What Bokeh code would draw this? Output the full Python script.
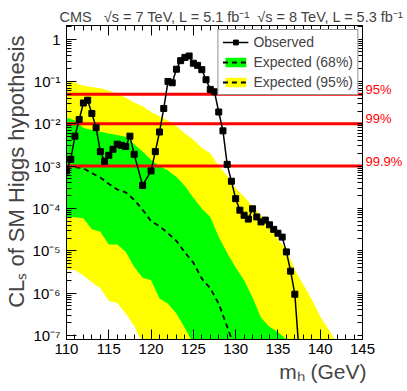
from bokeh.plotting import figure
from bokeh.models import (Span, Legend, LegendItem, LinearAxis, LogAxis, Title,
                          FixedTicker, SingleIntervalTicker, CustomJSTickFormatter)
from bokeh.embed import file_html
from bokeh.resources import INLINE

# ---------------- data ----------------
mass_grid = [110, 111, 112, 113, 114, 115, 116, 117, 118, 119, 120, 121, 122, 123,
             124, 125, 126, 127, 128, 129, 130, 131, 132, 133, 134, 135, 136, 137,
             138, 139, 140, 141, 142, 143, 144, 145]

yellow_hi = [1.0e-1, 9.3e-2, 7.9e-2, 7.4e-2, 6.9e-2, 6.0e-2, 5.1e-2, 4.1e-2, 3.2e-2,
             2.6e-2, 1.9e-2, 1.5e-2, 1.2e-2, 8.7e-3, 5.9e-3, 4.2e-3, 2.7e-3, 2.0e-3,
             1.0e-3, 5.8e-4, 3.0e-4, 1.9e-4, 1.1e-4, 6.9e-5, 4.7e-5, 1.8e-5, 1.1e-5,
             3.5e-6, 1.6e-6, 7.1e-7, 2.8e-7, 1.4e-7, 6.3e-8, 1e-9, 1e-9, 1e-9]
yellow_lo = [3.6e-6, 3.5e-6, 2.6e-6, 1.8e-6, 1.3e-6, 6.6e-7, 5.8e-7, 3.3e-7, 1.7e-7,
             6.3e-8, 1e-9, 1e-9, 1e-9, 1e-9, 1e-9, 1e-9, 1e-9, 1e-9, 1e-9, 1e-9, 1e-9,
             1e-9, 1e-9, 1e-9, 1e-9, 1e-9, 1e-9, 1e-9, 1e-9, 1e-9, 1e-9, 1e-9, 1e-9,
             1e-9, 1e-9, 1e-9]
green_hi = [1.4e-2, 1.2e-2, 7.9e-3, 7.1e-3, 6.5e-3, 5.9e-3, 5.4e-3, 4.9e-3, 3.3e-3,
            2.2e-3, 1.4e-3, 1.0e-3, 7.9e-4, 5.5e-4, 3.4e-4, 1.8e-4, 1.0e-4, 6.3e-5,
            2.1e-5, 8.9e-6, 4.0e-6, 2.0e-6, 7.9e-7, 2.6e-7, 1.6e-7, 1.2e-7, 7.9e-8,
            1e-9, 1e-9, 1e-9, 1e-9, 1e-9, 1e-9, 1e-9, 1e-9, 1e-9]
green_lo = [6.3e-5, 6.2e-5, 5.9e-5, 3.2e-5, 2.8e-5, 1.4e-5, 1.4e-5, 9.5e-6, 4.2e-6,
            2.3e-6, 2.0e-6, 7.4e-7, 5.6e-7, 3.3e-7, 1.5e-7, 6.3e-8, 1e-9, 1e-9, 1e-9,
            1e-9, 1e-9, 1e-9, 1e-9, 1e-9, 1e-9, 1e-9, 1e-9, 1e-9, 1e-9, 1e-9, 1e-9,
            1e-9, 1e-9, 1e-9, 1e-9, 1e-9]

exp_mass = [110, 111, 112, 113, 114, 115, 116, 117, 118, 119, 120, 121, 122, 123,
            124, 125, 126, 127, 128, 129, 130]
exp_cls = [1.0e-3, 9.5e-4, 8.9e-4, 6.8e-4, 5.4e-4, 3.8e-4, 2.8e-4, 2.4e-4, 1.6e-4,
           9.3e-5, 5.0e-5, 3.8e-5, 2.6e-5, 1.7e-5, 9.1e-6, 5.2e-6, 2.2e-6, 1.3e-6,
           5.6e-7, 1.6e-7, 4.5e-8]

obs_mass = [110, 110.5, 111, 111.5, 112, 112.5, 113, 113.5, 114, 114.5, 115, 115.5,
            116, 116.5, 117, 117.5, 118, 119, 120, 120.5, 121, 121.5, 122, 122.5,
            123, 123.5, 124, 124.5, 125, 125.5, 126, 126.5, 127, 127.5, 128, 128.5,
            129, 129.5, 130, 130.5, 131, 131.5, 132, 132.5, 133, 133.5, 134, 134.5,
            135, 135.5, 136, 136.5, 137, 137.5]
obs_cls = [7.7e-4, 1.45e-3, 5.1e-3, 1.26e-2, 3.1e-2, 3.6e-2, 1.75e-2, 8.1e-3, 2.2e-3,
           1.3e-3, 1.8e-3, 2.5e-3, 3.3e-3, 3.1e-3, 2.9e-3, 5.1e-3, 1.9e-3, 3.5e-4,
           7.7e-4, 2.2e-3, 6.4e-3, 2.3e-2, 0.10, 0.093, 0.195, 0.31, 0.37, 0.40, 0.27,
           0.24, 0.19, 0.11, 0.065, 0.057, 0.019, 6.8e-3, 1.1e-3, 4.4e-4, 1.7e-4, 9.1e-5,
           6.9e-5, 5.6e-5, 9.8e-5, 6.3e-5, 4.8e-5, 5.3e-5, 4.1e-5, 3.2e-5, 2.6e-5,
           2.1e-5, 9.4e-6, 3.3e-6, 9.4e-7, 4.0e-8]

cl_levels = [0.05, 0.01, 0.001]
cl_labels = ["95%", "99%", "99.9%"]

y_major = [1e-7, 1e-6, 1e-5, 1e-4, 1e-3, 1e-2, 1e-1, 1.0]
y_minor = [m * t for t in y_major for m in range(2, 10)]

TITLE_TEXT = ("CMS\u00a0\u00a0 \u221as = 7 TeV, L = 5.1 fb\u207b\u00b9\u00a0 "
              "\u221as = 8 TeV, L = 5.3 fb\u207b\u00b9")
YLABEL = "CL\u209b of SM Higgs hypothesis"
XLABEL = "m\u2095 (GeV)"

FONT = "Liberation Sans"
YELLOW = "#ffff00"
GREEN = "#00ff00"

X_MIN, X_MAX = 110, 145
Y_MIN, Y_MAX = 8e-8, 2.1
PX_PER_DECADE = 314 / 7.42          # frame height / decades shown
LABEL_RAISE = 10 ** (5 / PX_PER_DECADE)  # lift the red labels ~5px above their line

p = figure(width=407, height=391, y_axis_type="log",
           x_range=(X_MIN, X_MAX), y_range=(Y_MIN, Y_MAX),
           output_backend="svg", toolbar_location=None,
           min_border_left=65, min_border_right=45,
           min_border_top=25, min_border_bottom=52)
p.background_fill_color = "white"
p.border_fill_color = "white"
p.outline_line_color = "black"
p.outline_line_width = 1
p.xgrid.visible = False
p.ygrid.visible = False

# bands and expected
r_y = p.varea(x=mass_grid, y1=yellow_lo, y2=yellow_hi, fill_color=YELLOW, level="image")
r_g = p.varea(x=mass_grid, y1=green_lo, y2=green_hi, fill_color=GREEN, level="image")
r_exp = p.line(exp_mass, exp_cls, line_color="black", line_width=1.8, line_dash="5 4",
               level="image")

for lv in cl_levels:
    p.add_layout(Span(location=lv, dimension="width", line_color="#ff0000",
                      line_width=3, level="underlay"))

r_obs_l = p.line(obs_mass, obs_cls, line_color="black", line_width=1.5)
r_obs_m = p.scatter(obs_mass, obs_cls, marker="square", size=6, fill_color="black",
                    line_color="black")

# axes
xt = SingleIntervalTicker(interval=5, num_minor_ticks=5)
yt = FixedTicker(ticks=y_major, minor_ticks=y_minor)
ax = p.xaxis[0]
ax.ticker = xt
ay = p.yaxis[0]
ay.ticker = yt
ay.formatter = CustomJSTickFormatter(code="""
const e = Math.round(Math.log10(tick));
if (e === 0) { return "1"; }
const sup = {"-": "\u207b", "0": "\u2070", "1": "\u00b9", "2": "\u00b2", "3": "\u00b3",
             "4": "\u2074", "5": "\u2075", "6": "\u2076", "7": "\u2077", "8": "\u2078", "9": "\u2079"};
return "10" + String(e).split("").map(c => sup[c]).join("");
""")
for a in (ax, ay):
    a.major_tick_in = 10
    a.major_tick_out = 0
    a.minor_tick_in = 5
    a.minor_tick_out = 0
    a.axis_line_color = "black"
    a.major_tick_line_color = "black"
    a.minor_tick_line_color = "black"
    a.major_label_text_font = FONT
    a.major_label_text_font_size = "15px"
    a.major_label_text_color = "black"
ax.major_label_standoff = 4
ay.major_label_standoff = 6

empty = CustomJSTickFormatter(code="return '';")
top = LinearAxis(ticker=xt, formatter=empty, major_tick_in=10, major_tick_out=0,
                 minor_tick_in=5, minor_tick_out=0, axis_line_color="black",
                 major_label_standoff=0, major_label_text_font_size="1px")
p.add_layout(top, "above")

label_ticks = [lv * LABEL_RAISE for lv in cl_levels]
right = LogAxis(ticker=FixedTicker(ticks=label_ticks, minor_ticks=y_major + y_minor),
                formatter=CustomJSTickFormatter(args=dict(levels=label_ticks, labels=cl_labels), code="""
let best = 0, bd = 1e9;
for (let i = 0; i < levels.length; i++) {
  const d = Math.abs(Math.log10(tick) - Math.log10(levels[i]));
  if (d < bd) { bd = d; best = i; }
}
return bd < 0.05 ? labels[best] : "";
"""),
                major_tick_in=0, major_tick_out=0, minor_tick_in=5, minor_tick_out=0,
                axis_line_color="black", minor_tick_line_color="black",
                major_label_standoff=3, major_label_text_font=FONT,
                major_label_text_font_size="13px", major_label_text_color="#ff0000")
p.add_layout(right, "right")

# legend
legend = Legend(items=[
    LegendItem(label="Observed", renderers=[r_obs_l, r_obs_m]),
    LegendItem(label="Expected (68%)", renderers=[r_g, r_exp]),
    LegendItem(label="Expected (95%)", renderers=[r_y, r_exp]),
], location="top_right")
legend.label_text_font = FONT
legend.label_text_font_size = "14px"
legend.border_line_color = "#222222"
legend.border_line_width = 1
legend.background_fill_color = "white"
legend.background_fill_alpha = 1
legend.padding = 4
legend.spacing = 4
legend.margin = 4
legend.glyph_width = 26
legend.glyph_height = 12
legend.label_height = 16
legend.label_standoff = 5
p.add_layout(legend)

# titles
p.title.text = TITLE_TEXT
p.title.align = "left"
p.title.offset = -7
p.title.standoff = 2
p.title.text_font = FONT
p.title.text_font_size = "14.5px"
p.title.text_font_style = "normal"

ytitle = Title(text=YLABEL, align="right", offset=10, standoff=2, text_font=FONT,
               text_font_size="22px", text_font_style="normal")
p.add_layout(ytitle, "left")

xtitle = Title(text=XLABEL, align="right", offset=-4, standoff=2, text_font=FONT,
               text_font_size="21px", text_font_style="normal")
p.add_layout(xtitle, "below")

open("out.html", "w").write(file_html(p, INLINE))
